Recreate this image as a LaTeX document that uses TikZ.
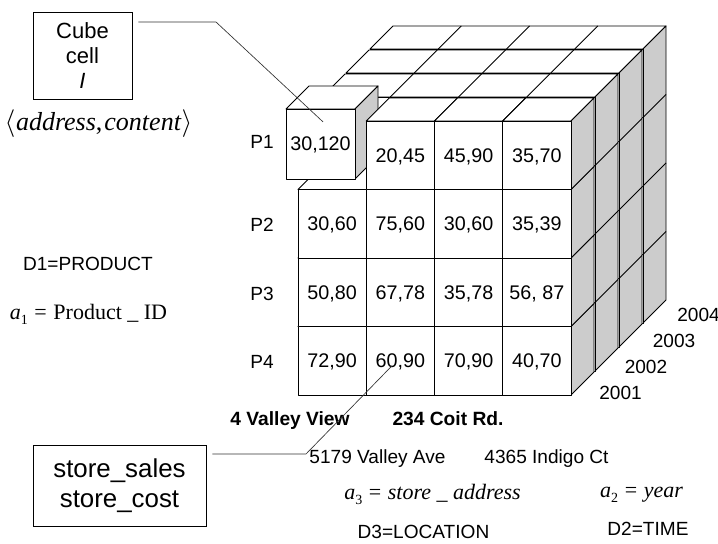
\documentclass[tikz,border=0pt]{standalone}
\usepackage{fontspec}
\setmainfont{Liberation Sans}
\newfontfamily\tmsfont{Liberation Serif}
\definecolor{sidegray}{RGB}{204,204,204}

% small lowered index for the attribute names
\newcommand{\subidx}[1]{\raisebox{-0.24em}{\fontsize{10.5}{10.5}\selectfont #1}}

\tikzset{
  facestyle/.style={fill=white, draw=black, line width=0.65pt, line join=round},
  sidestyle/.style={fill=sidegray, draw=black, line width=0.65pt, line join=round},
  edge/.style={draw=black, line width=0.65pt},
  num/.style={anchor=base, inner sep=0pt, font=\fontsize{14.8}{17}\selectfont},
  lbl/.style={anchor=base, inner sep=0pt, font=\fontsize{14.3}{17}\selectfont},
  boldlbl/.style={anchor=base, inner sep=0pt, font=\fontsize{14.4}{17}\selectfont\bfseries},
  mathlbl/.style={anchor=base, inner sep=0pt, font=\fontsize{16.5}{20}\selectfont\tmsfont},
  link/.style={draw=black!80, line width=0.5pt},
  callout/.style={draw=black, line width=0.6pt, align=center, inner sep=0pt},
}

% one block: front face at (#1,#2), width #3, height #4, depth #5
\newcommand{\drawblock}[5]{%
  \filldraw[facestyle] (#1,#2) -- ++(#3,0) -- ++(#5,-#5) -- ++(-#3,0) -- cycle;
  \filldraw[sidestyle] (#1+#3,#2) -- ++(#5,-#5) -- ++(0,#4) -- ++(-#5,#5) -- cycle;
  \filldraw[facestyle] (#1,#2) rectangle ++(#3,#4);
}

% one cell of the front slab: row, column, value
\newcommand{\cellat}[3]{%
  \pgfmathsetmacro\cellx{298+(#2-1)*68.25}
  \pgfmathsetmacro\celly{121+(#1-1)*68.5}
  \drawblock{\cellx}{\celly}{68.25}{68.5}{23}
  \node[num] (cell-#1-#2) at (\cellx+34.125,\celly+34.25+7.1) {#3};
}

\begin{document}
\begin{tikzpicture}[x=0.75pt,y=-0.75pt]
\useasboundingbox (0,0) rectangle (718,543);

% back slabs of the cube (2004, 2003, 2002)
\foreach \k in {3,2,1} {
  \pgfmathsetmacro\ox{298+24*\k}
  \pgfmathsetmacro\oy{121-24*\k}
  \drawblock{\ox}{\oy}{273}{274}{23}
  \foreach \c in {1,2,3} {
    \draw[edge] (\ox+\c*68.25,\oy) -- ++(23,-23);
    \draw[edge] (\ox+\c*68.25,\oy) -- ++(0,274);
  }
  \foreach \r in {1,2,3} {
    \draw[edge] (\ox+273,\oy+\r*68.5) -- ++(23,-23);
    \draw[edge] (\ox,\oy+\r*68.5) -- ++(273,0);
  }
}

% front slab (2001), drawn cell by cell from the bottom row up
\cellat{4}{1}{72,90}
\cellat{4}{2}{60,90}
\cellat{4}{3}{70,90}
\cellat{4}{4}{40,70}
\cellat{3}{1}{50,80}
\cellat{3}{2}{67,78}
\cellat{3}{3}{35,78}
\cellat{3}{4}{56, 87}
\cellat{2}{1}{30,60}
\cellat{2}{2}{75,60}
\cellat{2}{3}{30,60}
\cellat{2}{4}{35,39}

% the cell taken out of the cube
\drawblock{286}{109}{69}{70}{23}
\node[num] (cell-1-1) at (320.5,150.6) {30,120};

\cellat{1}{2}{20,45}
\cellat{1}{3}{45,90}
\cellat{1}{4}{35,70}

% product members
\node[lbl] (p1) at (262,148) {P1};
\node[lbl] (p2) at (262,231) {P2};
\node[lbl] (p3) at (262,300) {P3};
\node[lbl] (p4) at (262,368) {P4};

% years along the depth
\node[lbl] (y2001) at (620.5,399) {2001};
\node[lbl] (y2002) at (646,373) {2002};
\node[lbl] (y2003) at (674,347) {2003};
\node[lbl] (y2004) at (698.5,321) {2004};

% store addresses
\node[boldlbl] (addr1) at (290,425) {4 Valley View};
\node[boldlbl] (addr2) at (448,425) {234 Coit Rd.};
\node[lbl] (addr3) at (377.5,463) {5179 Valley Ave};
\node[lbl] (addr4) at (546.5,463) {4365 Indigo Ct};

% dimension names and attributes
\node[lbl] (d1) at (88,270) {D1=PRODUCT};
\node[mathlbl] (a1) at (88.5,319) {{\itshape a}\subidx{1}\hspace{0.3em}=\hspace{0.3em}Product \_ ID};
\node[mathlbl] (a3) at (432.5,499) {{\itshape a}\subidx{3}\hspace{0.3em}=\hspace{0.3em}{\itshape store \_ address}};
\node[mathlbl] (a2) at (641.5,497) {{\itshape a}\subidx{2}\hspace{0.3em}=\hspace{0.3em}{\itshape year}};
\node[lbl] (d3) at (423.5,538.5) {D3=LOCATION};
\node[lbl] (d2) at (648,535) {D2=TIME};

% cell structure
\node[callout, minimum width=74.25pt, minimum height=65.25pt,
      font=\fontsize{16.5}{18.75}\selectfont] (cubebox) at (82.5,55.5)
      {Cube\\cell\\\textit{I}};
\node[anchor=base, inner sep=0pt, font=\fontsize{19.5}{22}\selectfont\tmsfont] (cellform) at (98.5,130)
      {$\langle$\kern0.5pt{\itshape address},\kern1.5pt{\itshape content}\kern0.5pt$\rangle$};

% measures
\node[callout, minimum width=129.75pt, minimum height=60.75pt,
      font=\fontsize{19.4}{22.5}\selectfont] (storebox) at (119.5,485.5)
      {store\_sales\\store\_cost};

% connectors
\coordinate (cubelink-bend) at (216,22);
\coordinate (storelink-bend) at (306,454);
\draw[link] (cubebox.east |- cubelink-bend) ++(4.5pt,0) -- (cubelink-bend) -- ([xshift=1.9pt,yshift=11pt]cell-1-1.north);
\draw[link] (storebox.east |- storelink-bend) ++(4.5pt,0) -- (storelink-bend) -- ([xshift=-6.3pt,yshift=-9pt]cell-4-2.north);
\end{tikzpicture}
\end{document}
